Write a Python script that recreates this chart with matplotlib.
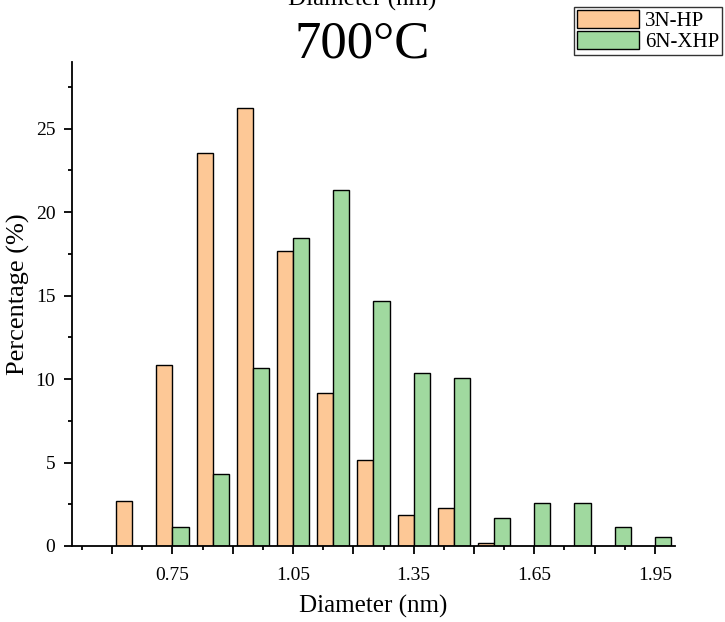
import numpy as np
import matplotlib
matplotlib.use("Agg")
import matplotlib.pyplot as plt
from matplotlib.patches import Patch
from matplotlib.ticker import FixedLocator, MultipleLocator

# bin centres (nm) and percentages
diameters = [0.65, 0.75, 0.85, 0.95, 1.05, 1.15, 1.25, 1.35, 1.45, 1.55, 1.65, 1.75, 1.85, 1.95]
hp_3n = [2.68, 10.83, 23.54, 26.23, 17.68, 9.15, 5.16, 1.85, 2.27, 0.18, 0, 0, 0, 0]
xhp_6n = [0, 1.14, 4.31, 10.65, 18.44, 21.31, 14.69, 10.38, 10.07, 1.69, 2.57, 2.57, 1.14, 0.56]
series_names = ["3N-HP", "6N-XHP"]
colors = ["#FDC896", "#A0D99F"]

x_major = [0.6, 0.75, 0.9, 1.05, 1.2, 1.35, 1.5, 1.65, 1.8, 1.95]
x_labels = ["", "0.75", "", "1.05", "", "1.35", "", "1.65", "", "1.95"]
x_minor = [0.525, 0.675, 0.825, 0.975, 1.125, 1.275, 1.425, 1.575, 1.725, 1.875]
y_major = [0, 5, 10, 15, 20, 25]

plt.rcParams["font.family"] = ["Liberation Serif", "DejaVu Serif"]

fig = plt.figure(figsize=(7.25, 6.22), dpi=100)
ax = fig.add_axes([0.0993, 0.1222, 0.8317, 0.7781])

x = np.array(diameters)
w = 0.04
for offset, vals, c in ((-w / 2, hp_3n, colors[0]), (w / 2, xhp_6n, colors[1])):
    bars = ax.bar(x + offset, vals, width=w, color=c, edgecolor="black", linewidth=1.0)
    for bar, v in zip(bars, vals):
        if v == 0:
            bar.set_visible(False)

ax.set_xlim(0.5, 2.0)
ax.set_ylim(0, 29)
ax.set_xticks(x_major)
ax.set_xticklabels(x_labels)
ax.xaxis.set_minor_locator(FixedLocator(x_minor))
ax.set_yticks(y_major)
ax.yaxis.set_minor_locator(MultipleLocator(2.5))

for side in ("top", "right"):
    ax.spines[side].set_visible(False)
for side in ("left", "bottom"):
    ax.spines[side].set_linewidth(1.3)

ax.tick_params(which="major", direction="out", length=6, width=1.3, labelsize=14, pad=6)
ax.tick_params(axis="x", which="major", pad=9)
ax.tick_params(which="minor", direction="out", length=3, width=1.3)

ax.set_xlabel("Diameter (nm)", fontsize=18, labelpad=8)
ax.set_ylabel("Percentage (%)", fontsize=19)
ax.yaxis.set_label_coords(-0.07, 0.52)

fig.text(0.5, 1 - 58 / 622, "700°C", fontsize=38, ha="center", va="baseline")
fig.text(0.5, 1 - 6 / 622, "Diameter (nm)", fontsize=18, ha="center", va="baseline")

handles = [Patch(facecolor=c, edgecolor="black", linewidth=1.0) for c in colors]
leg = ax.legend(handles, series_names, loc="upper right", bbox_to_anchor=(0.996, 0.988),
                bbox_transform=fig.transFigure, fontsize=15, frameon=True, fancybox=False,
                edgecolor="black", handlelength=3.0, handleheight=0.95, handletextpad=0.3,
                labelspacing=0.0, borderpad=0.12, borderaxespad=0)
leg.get_frame().set_linewidth(1.0)

fig.savefig("out.png", dpi=100)
